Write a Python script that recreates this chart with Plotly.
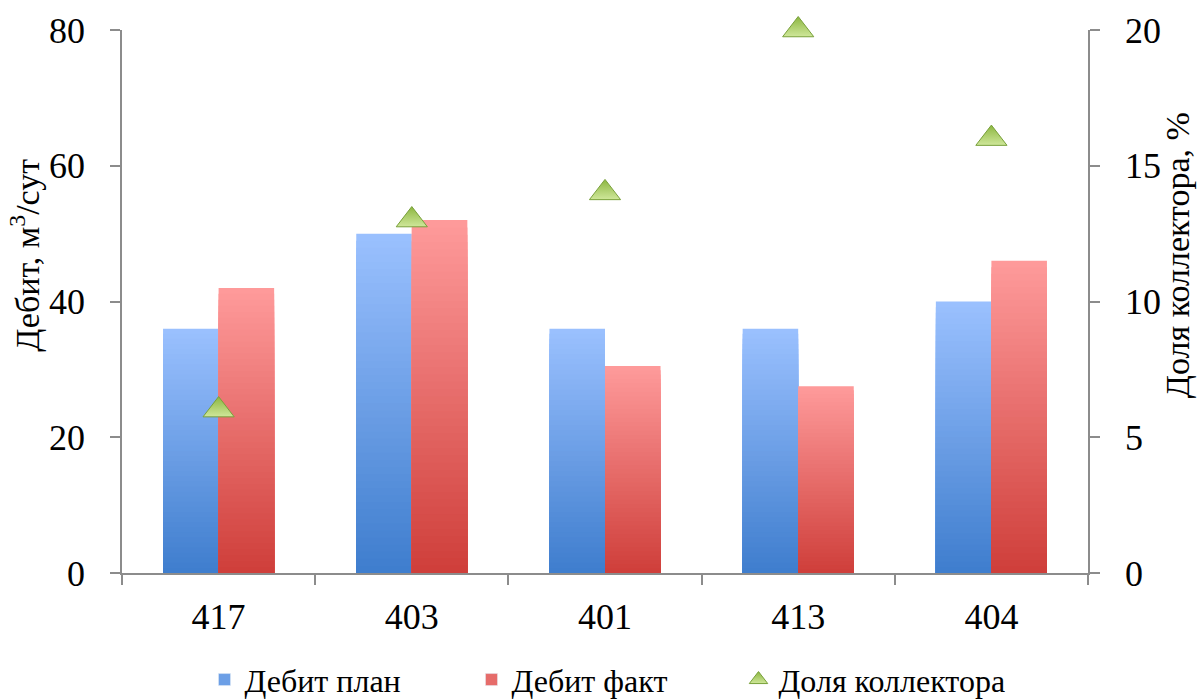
import plotly.graph_objects as go

# Well numbers and measured values
wells = ["417", "403", "401", "413", "404"]
debit_plan = [36, 50, 36, 36, 40]          # м3/сут
debit_fact = [42, 52, 30.5, 27.5, 46]      # м3/сут
collector_share = [6, 13, 14, 20, 16]      # %

FONT = "'Liberation Serif', 'Times New Roman', 'DejaVu Serif', serif"
N_STEPS = 48


def mix(c1, c2, t):
    return "rgb({},{},{})".format(*[round(a + (b - a) * t) for a, b in zip(c1, c2)])


def gradient_bars(fig, values, group, top_rgb, bottom_rgb):
    """Overlay progressively shorter, darker copies of a bar series so each
    bar fades from a dark base to a light top."""
    for k in range(N_STEPS):
        frac = (N_STEPS - k) / N_STEPS
        t = (N_STEPS - k - 0.5) / N_STEPS
        fig.add_trace(go.Bar(
            x=wells,
            y=[v * frac for v in values],
            offsetgroup=group,
            marker=dict(color=mix(bottom_rgb, top_rgb, t), line=dict(width=0)),
            showlegend=False,
            hoverinfo="skip",
        ))


fig = go.Figure()

blue_top, blue_bottom = (155, 193, 255), (62, 125, 205)
red_top, red_bottom = (255, 155, 155), (206, 62, 58)

gradient_bars(fig, debit_plan, "plan", blue_top, blue_bottom)
gradient_bars(fig, debit_fact, "fact", red_top, red_bottom)

# Legend entries for the bar series
fig.add_trace(go.Bar(x=wells, y=[None] * len(wells), offsetgroup="plan",
                     name="Дебит план", marker=dict(color=mix(blue_bottom, blue_top, 0.5))))
fig.add_trace(go.Bar(x=wells, y=[None] * len(wells), offsetgroup="fact",
                     name="Дебит факт", marker=dict(color=mix(red_bottom, red_top, 0.5))))

fig.add_trace(go.Scatter(
    x=wells, y=collector_share, yaxis="y2", mode="markers",
    name="Доля коллектора", cliponaxis=False,
    marker=dict(symbol="triangle-up", size=27, color="#8cb640",
                gradient=dict(type="vertical", color="#cfe79a"),
                line=dict(color="#78a03a", width=1)),
))

axis_color = "#8c8c8c"
tick_font = dict(family=FONT, size=36, color="black")

fig.update_layout(
    width=1201, height=699,
    margin=dict(l=122, r=113, t=30, b=126, autoexpand=False),
    paper_bgcolor="white", plot_bgcolor="white",
    barmode="group", bargap=0.425, bargroupgap=0,
    font=dict(family=FONT, color="black"),
    xaxis=dict(
        type="category", showline=True, linecolor=axis_color, linewidth=1.5,
        ticks="outside", tickson="boundaries", ticklen=10, tickcolor=axis_color,
        tickwidth=1.5, tickfont=tick_font, ticklabelstandoff=11, showgrid=False,
    ),
    yaxis=dict(
        range=[0, 80], dtick=20, showline=True, linecolor=axis_color, linewidth=1.5,
        ticks="outside", ticklen=10, tickcolor=axis_color, tickwidth=1.5,
        tickfont=tick_font, ticklabelstandoff=18, showgrid=False, zeroline=False,
    ),
    yaxis2=dict(
        range=[0, 20], dtick=5, overlaying="y", side="right", showline=True,
        linecolor=axis_color, linewidth=1.5, ticks="outside", ticklen=10,
        tickcolor=axis_color, tickwidth=1.5, tickfont=tick_font,
        ticklabelstandoff=18, showgrid=False, zeroline=False,
    ),
    legend=dict(orientation="h", x=0.5, xanchor="center", y=-0.146, yanchor="top",
                font=dict(family=FONT, size=32, color="black"),
                itemwidth=30, entrywidth=222, entrywidthmode="pixels",
                traceorder="normal"),
    annotations=[
        dict(text="Дебит, м<sup>3</sup>/сут", xref="paper", yref="paper",
             x=-0.1, y=0.585, xanchor="center", yanchor="middle",
             textangle=-90, showarrow=False,
             font=dict(family=FONT, size=34, color="black")),
        dict(text="Доля коллектора, %", xref="paper", yref="paper",
             x=1.093, y=0.585, xanchor="center", yanchor="middle",
             textangle=-90, showarrow=False,
             font=dict(family=FONT, size=34, color="black")),
    ],
)

fig.write_html("out.html")
